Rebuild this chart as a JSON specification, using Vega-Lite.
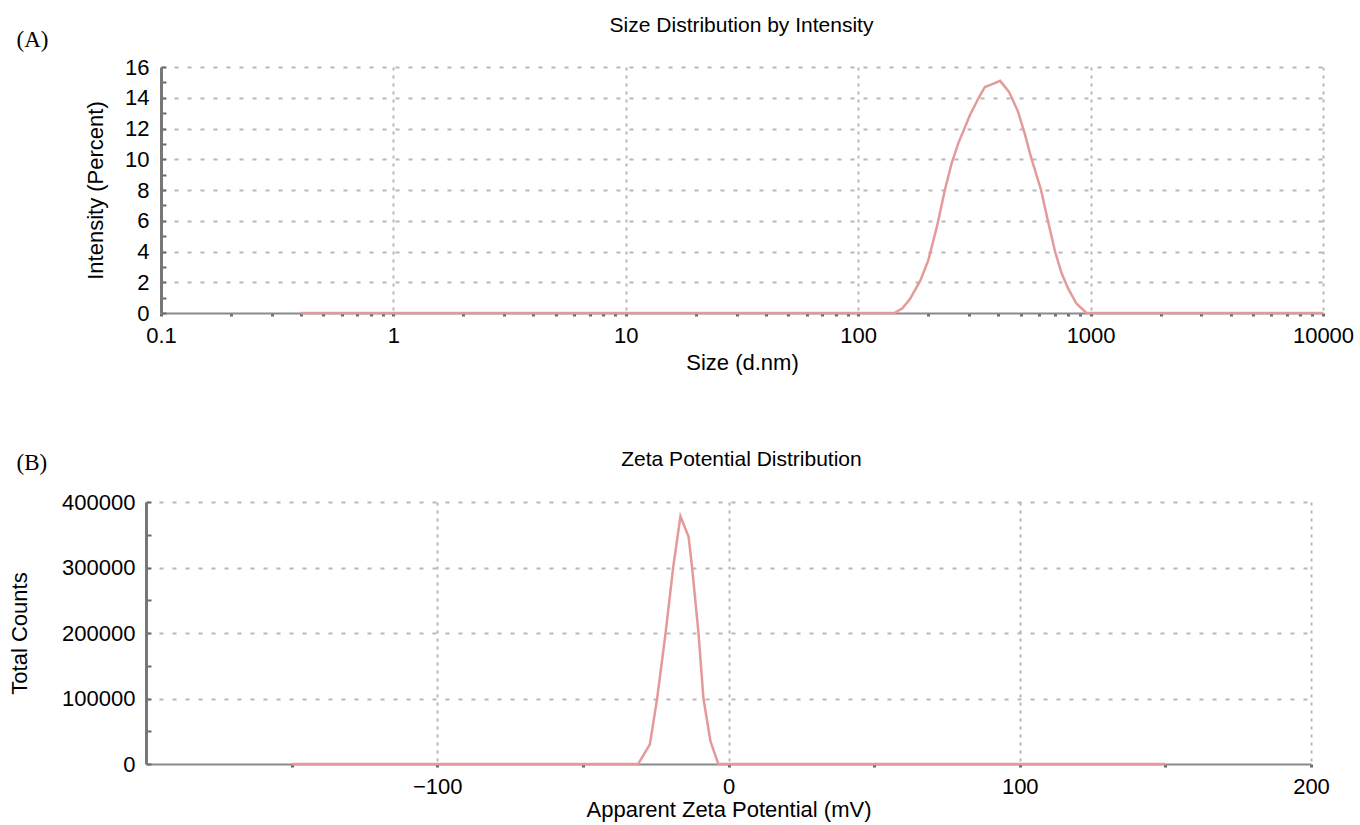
{
  "$schema": "https://vega.github.io/schema/vega-lite/v6.json",
  "background": "white",
  "padding": {"left": 8, "top": 15, "right": 5, "bottom": 2},
  "spacing": 76,
  "config": {
    "font": "Liberation Sans",
    "view": {"stroke": null},
    "axis": {
      "labelFontSize": 22, "titleFontSize": 22, "labelColor": "#000", "titleColor": "#000",
      "titleFontWeight": "normal", "labelFont": "Liberation Sans", "titleFont": "Liberation Sans",
      "domainColor": "#8a8a8a", "domainWidth": 2, "tickColor": "#6a6a6a",
      "gridColor": "#b8b8b8", "gridWidth": 2, "labelOverlap": false, "labelFlush": false
    },
    "title": {"fontSize": 21, "fontWeight": "normal", "font": "Liberation Sans", "color": "#000"}
  },
  "vconcat": [
    {
      "width": 1177,
      "height": 246,
      "title": {"text": "Size Distribution by Intensity", "anchor": "middle", "frame": "group", "dx": 7, "offset": -8},
      "data": {"values": [
        {"size": 0.4, "intensity": 0}, {"size": 1, "intensity": 0}, {"size": 10, "intensity": 0},
        {"size": 100, "intensity": 0}, {"size": 143, "intensity": 0}, {"size": 155, "intensity": 0.3},
        {"size": 167, "intensity": 0.9}, {"size": 185, "intensity": 2.1}, {"size": 200, "intensity": 3.4},
        {"size": 218, "intensity": 5.6}, {"size": 236, "intensity": 8.0}, {"size": 252, "intensity": 9.7},
        {"size": 269, "intensity": 11.0}, {"size": 303, "intensity": 12.9}, {"size": 330, "intensity": 14.0},
        {"size": 351, "intensity": 14.7}, {"size": 380, "intensity": 14.9}, {"size": 408, "intensity": 15.1},
        {"size": 445, "intensity": 14.4}, {"size": 487, "intensity": 13.1}, {"size": 520, "intensity": 11.7},
        {"size": 555, "intensity": 10.1}, {"size": 612, "intensity": 8.0}, {"size": 655, "intensity": 6.0},
        {"size": 703, "intensity": 4.0}, {"size": 750, "intensity": 2.6}, {"size": 800, "intensity": 1.6},
        {"size": 870, "intensity": 0.6}, {"size": 960, "intensity": 0}, {"size": 1000, "intensity": 0},
        {"size": 10000, "intensity": 0}
      ]},
      "encoding": {
        "y": {
          "field": "intensity", "type": "quantitative",
          "scale": {"domain": [0, 16], "nice": false},
          "axis": {
            "title": "Intensity (Percent)",
            "values": [0, 1, 2, 3, 4, 5, 6, 7, 8, 9, 10, 11, 12, 13, 14, 15, 16],
            "labelExpr": "datum.value % 2 == 0 ? datum.label : ''",
            "labelOverlap": false,
            "grid": true,
            "gridOpacity": {"condition": {"test": "datum.value % 2 == 0 && datum.value > 0", "value": 1}, "value": 0},
            "gridDash": [4, 9],
            "offset": -15,
            "tickSize": -5, "tickWidth": 2,
            "labelPadding": 17, "titlePadding": 17,
            "domainColor": "#777", "domainWidth": 3
          }
        }
      },
      "layer": [
        {
          "mark": {"type": "line", "color": "#e59a9a", "strokeWidth": 2.5},
          "encoding": {
            "x": {
              "field": "size", "type": "quantitative",
              "scale": {"type": "log", "domain": [0.1, 10000], "range": [15, 1177], "nice": false},
              "axis": {
                "title": "Size (d.nm)",
                "values": [0.1, 0.2, 0.3, 0.4, 0.5, 0.6, 0.7, 0.8, 0.9, 1, 2, 3, 4, 5, 6, 7, 8, 9, 10, 20, 30, 40, 50, 60, 70, 80, 90, 100, 200, 300, 400, 500, 600, 700, 800, 900, 1000, 2000, 3000, 4000, 5000, 6000, 7000, 8000, 9000, 10000],
                "labelExpr": "indexof([0.1, 1, 10, 100, 1000, 10000], datum.value) >= 0 ? format(datum.value, '~g') : ''",
                "labelOverlap": false,
                "grid": true,
                "gridOpacity": {"condition": {"test": "indexof([1, 10, 100, 1000, 10000], datum.value) >= 0", "value": 1}, "value": 0},
                "gridDash": [3, 5],
                "tickSize": 3, "tickWidth": 3,
                "labelPadding": 9, "titlePadding": 6
              }
            }
          }
        },
        {
          "mark": {"type": "line", "opacity": 0},
          "encoding": {
            "x": {
              "field": "size", "type": "quantitative",
              "axis": {
                "orient": "top", "title": "(A)", "labels": false, "ticks": false, "domain": false, "grid": false,
                "titleFont": "Liberation Serif", "titleFontSize": 23, "titleAlign": "left", "titleBaseline": "middle",
                "titleAnchor": "start", "titleX": -130, "titleY": -28
              }
            }
          }
        }
      ],
      "resolve": {"axis": {"x": "independent"}}
    },
    {
      "width": 1165,
      "height": 262,
      "title": {"text": "Zeta Potential Distribution", "anchor": "middle", "frame": "group", "dx": 13, "offset": -19},
      "data": {"values": [
        {"zeta": -150, "counts": 0}, {"zeta": -100, "counts": 0}, {"zeta": -50, "counts": 0},
        {"zeta": -31, "counts": 0}, {"zeta": -27, "counts": 30000}, {"zeta": -24.5, "counts": 100000},
        {"zeta": -21.6, "counts": 200000}, {"zeta": -19, "counts": 300000}, {"zeta": -16.5, "counts": 378000},
        {"zeta": -13.7, "counts": 347000}, {"zeta": -12.5, "counts": 300000}, {"zeta": -10.3, "counts": 200000},
        {"zeta": -8.6, "counts": 100000}, {"zeta": -6.2, "counts": 35000}, {"zeta": -3.5, "counts": 0},
        {"zeta": 0, "counts": 0}, {"zeta": 50, "counts": 0}, {"zeta": 100, "counts": 0}, {"zeta": 150, "counts": 0}
      ]},
      "encoding": {
        "y": {
          "field": "counts", "type": "quantitative",
          "scale": {"domain": [0, 400000], "nice": false},
          "axis": {
            "title": "Total Counts",
            "format": "d",
            "values": [0, 50000, 100000, 150000, 200000, 250000, 300000, 350000, 400000],
            "labelExpr": "datum.value % 100000 == 0 ? datum.label : ''",
            "labelOverlap": false,
            "grid": true,
            "gridOpacity": {"condition": {"test": "datum.value % 100000 == 0 && datum.value > 0", "value": 1}, "value": 0},
            "gridDash": [4, 9],
            "tickSize": -5, "tickWidth": 2,
            "labelPadding": 16, "titlePadding": 30,
            "domainColor": "#777", "domainWidth": 3
          }
        }
      },
      "layer": [
        {
          "mark": {"type": "line", "color": "#e59a9a", "strokeWidth": 2.5},
          "encoding": {
            "x": {
              "field": "zeta", "type": "quantitative",
              "scale": {"domain": [-200, 200], "nice": false},
              "axis": {
                "title": "Apparent Zeta Potential (mV)",
                "values": [-150, -100, -50, 0, 50, 100, 150, 200],
                "labelExpr": "datum.value % 100 == 0 ? datum.label : ''",
                "labelOverlap": false,
                "grid": true,
                "gridOpacity": {"condition": {"test": "datum.value % 100 == 0", "value": 1}, "value": 0},
                "gridDash": [3, 5],
                "tickSize": 3, "tickWidth": 3,
                "labelPadding": 9, "titlePadding": 2
              }
            }
          }
        },
        {
          "mark": {"type": "line", "opacity": 0},
          "encoding": {
            "x": {
              "field": "zeta", "type": "quantitative",
              "axis": {
                "orient": "top", "title": "(B)", "labels": false, "ticks": false, "domain": false, "grid": false,
                "titleFont": "Liberation Serif", "titleFontSize": 23, "titleAlign": "left", "titleBaseline": "middle",
                "titleAnchor": "start", "titleX": -130, "titleY": -40
              }
            }
          }
        }
      ],
      "resolve": {"axis": {"x": "independent"}}
    }
  ]
}
